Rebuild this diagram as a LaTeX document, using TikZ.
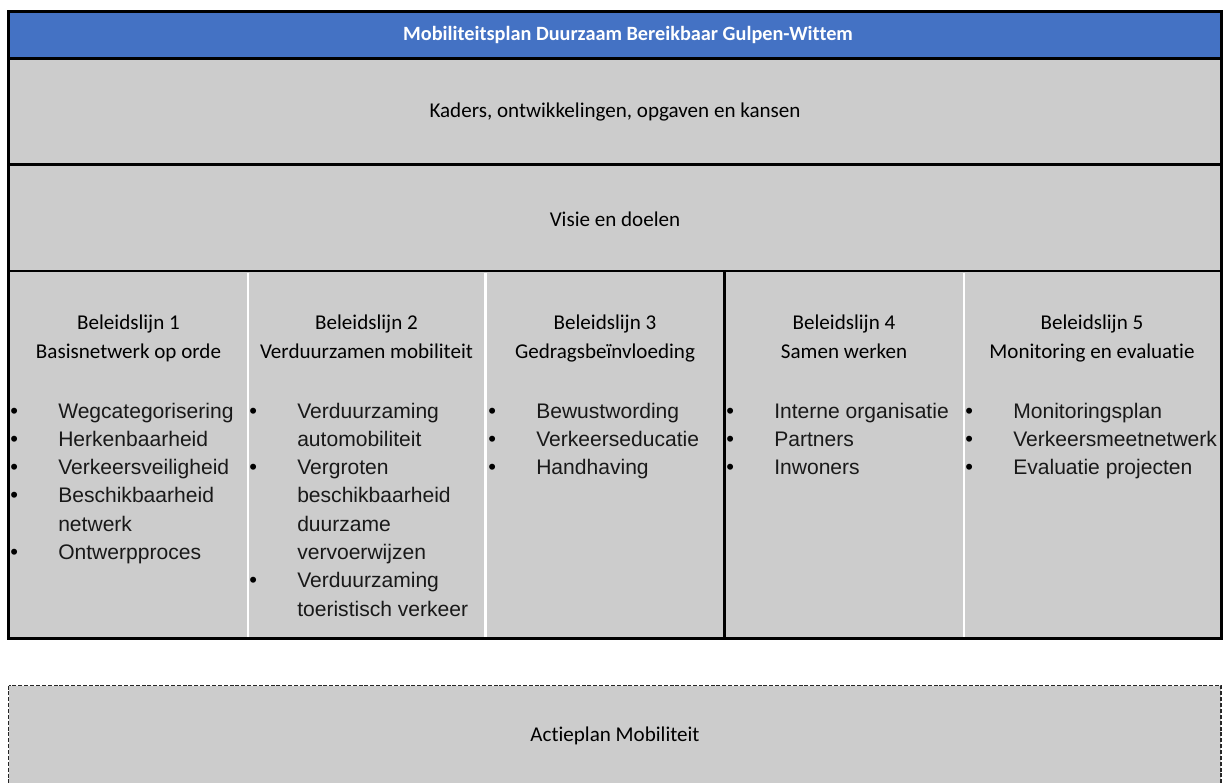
\documentclass[tikz,border=0pt]{standalone}
\usepackage{fontspec}
\setmainfont{Carlito}[Ligatures=NoCommon]
\newfontfamily\arialf{Liberation Sans}
\definecolor{hdrblue}{HTML}{4472C4}
\definecolor{boxgray}{HTML}{CCCCCC}
\tikzset{
  cal/.style={font=\fontsize{15.8}{19}\selectfont, inner sep=0pt, anchor=base, text=black},
  hdr/.style={font=\fontsize{15.2}{18}\selectfont\bfseries, inner sep=0pt, anchor=base, text=white},
  itm/.style={font=\arialf\fontsize{15.8}{19}\selectfont, inner sep=0pt, anchor=base west, text=black!90},
  bul/.style={font=\arialf\fontsize{16.5}{19}\selectfont, inner sep=0pt, anchor=base west, text=black},
  frame/.style={draw=black, line width=2.4pt},
  sepw/.style={draw=white, line width=1.8pt},
  sepb/.style={draw=black, line width=2.4pt},
  dashbox/.style={draw=black!85, line width=0.8pt, dash pattern=on 3pt off 1.4pt, fill=boxgray}
}
\begin{document}
\begin{tikzpicture}[x=0.75pt, y=-0.75pt]
\clip (0,0) rectangle (1228,782);
\fill[white] (0,0) rectangle (1228,782);
% main frame
\fill[hdrblue] (8.5,11.5) rectangle (1221.5,58.5);
\fill[boxgray] (8.5,58.5) rectangle (1221.5,638.5);
\coordinate (tl) at (8.5,11.5);
\coordinate (br) at (1221.5,638.5);
\coordinate (h1l) at (8.5,58.5); \coordinate (h1r) at (1221.5,58.5);
\coordinate (h2l) at (8.5,164.5); \coordinate (h2r) at (1221.5,164.5);
\coordinate (h3l) at (8.5,271); \coordinate (h3r) at (1221.5,271);
% column separators
\coordinate (s1t) at (247.7,272.5); \coordinate (s1b) at (247.7,637);
\coordinate (s2t) at (485.3,272.5); \coordinate (s2b) at (485.3,637);
\coordinate (s3t) at (724.2,271); \coordinate (s3b) at (724.2,638.5);
\coordinate (s4t) at (963.8,272.5); \coordinate (s4b) at (963.8,637);
\draw[sepw] (s1t) -- (s1b);
\draw[sepw] (s2t) -- (s2b);
\draw[sepw] (s4t) -- (s4b);
\draw[sepb] (s3t) -- (s3b);
\draw[frame] (h1l) -- (h1r);
\draw[frame] (h2l) -- (h2r);
\draw[line width=2pt] (h3l) -- (h3r);
\draw[frame] (tl) rectangle (br);
% dashed box
\draw[dashbox] (8.7,685.5) rectangle (1221,800);

% texts
\node[hdr] (title) at (628,40.5) {Mobiliteitsplan Duurzaam Bereikbaar Gulpen-Wittem};
\node[cal] (kaders) at (615,117.5) {Kaders, ontwikkelingen, opgaven en kansen};
\node[cal] (visie) at (615,226) {Visie en doelen};
\node[cal] (actie) at (615,741.5) {Actieplan Mobiliteit};

% column headings
\node[cal] (c1a) at (128.5,329) {Beleidslijn 1};
\node[cal] (c1b) at (128.5,358) {Basisnetwerk op orde};
\node[cal] (c2a) at (366.5,329) {Beleidslijn 2};
\node[cal] (c2b) at (366.5,358) {Verduurzamen mobiliteit};
\node[cal] (c3a) at (605,329) {Beleidslijn 3};
\node[cal] (c3b) at (605,358) {Gedragsbeïnvloeding};
\node[cal] (c4a) at (844,329) {Beleidslijn 4};
\node[cal] (c4b) at (844,358) {Samen werken};
\node[cal] (c5a) at (1092,329) {Beleidslijn 5};
\node[cal] (c5b) at (1092,358) {Monitoring en evaluatie};

% column 1
\node[bul] (b1a) at (10,418) {•}; \node[itm] (t1a) at (58,418) {Wegcategorisering};
\node[bul] (b1b) at (10,446.3) {•}; \node[itm] (t1b) at (58,446.3) {Herkenbaarheid};
\node[bul] (b1c) at (10,474.6) {•}; \node[itm] (t1c) at (58,474.6) {Verkeersveiligheid};
\node[bul] (b1d) at (10,502.9) {•}; \node[itm] (t1d) at (58,502.9) {Beschikbaarheid};
\node[itm] (t1e) at (58,531.2) {netwerk};
\node[bul] (b1f) at (10,559.5) {•}; \node[itm] (t1f) at (58,559.5) {Ontwerpproces};

% column 2
\node[bul] (b2a) at (249,418) {•}; \node[itm] (t2a) at (297,418) {Verduurzaming};
\node[itm] (t2b) at (297,446.3) {automobiliteit};
\node[bul] (b2c) at (249,474.6) {•}; \node[itm] (t2c) at (297,474.6) {Vergroten};
\node[itm] (t2d) at (297,502.9) {beschikbaarheid};
\node[itm] (t2e) at (297,531.2) {duurzame};
\node[itm] (t2f) at (297,559.5) {vervoerwijzen};
\node[bul] (b2g) at (249,587.8) {•}; \node[itm] (t2g) at (297,587.8) {Verduurzaming};
\node[itm] (t2h) at (297,616.1) {toeristisch verkeer};

% column 3
\node[bul] (b3a) at (488,418) {•}; \node[itm] (t3a) at (536,418) {Bewustwording};
\node[bul] (b3b) at (488,446.3) {•}; \node[itm] (t3b) at (536,446.3) {Verkeerseducatie};
\node[bul] (b3c) at (488,474.6) {•}; \node[itm] (t3c) at (536,474.6) {Handhaving};

% column 4
\node[bul] (b4a) at (726,418) {•}; \node[itm] (t4a) at (774,418) {Interne organisatie};
\node[bul] (b4b) at (726,446.3) {•}; \node[itm] (t4b) at (774,446.3) {Partners};
\node[bul] (b4c) at (726,474.6) {•}; \node[itm] (t4c) at (774,474.6) {Inwoners};

% column 5
\node[bul] (b5a) at (965,418) {•}; \node[itm] (t5a) at (1013,418) {Monitoringsplan};
\node[bul] (b5b) at (965,446.3) {•}; \node[itm] (t5b) at (1013,446.3) {Verkeersmeetnetwerk};
\node[bul] (b5c) at (965,474.6) {•}; \node[itm] (t5c) at (1013,474.6) {Evaluatie projecten};
\end{tikzpicture}
\end{document}
